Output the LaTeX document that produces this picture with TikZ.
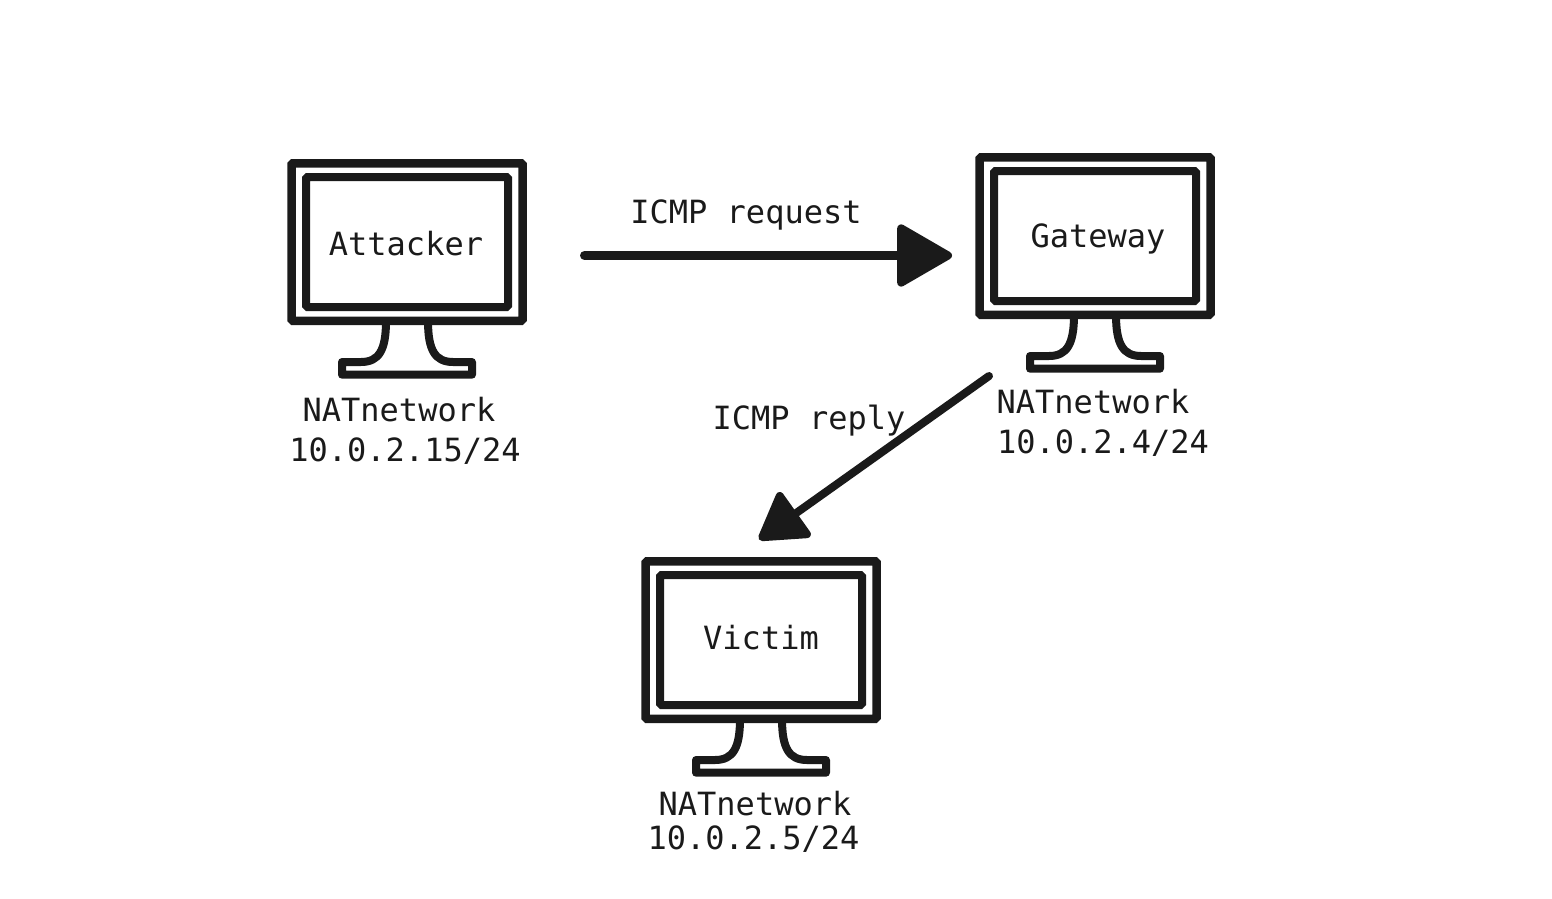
\documentclass[tikz,border=0pt]{standalone}
\usepackage{fontspec}
\setmonofont{DejaVu Sans Mono}
\usetikzlibrary{arrows.meta, positioning}
\definecolor{inkc}{HTML}{1A1A1A}
\tikzset{
  lbl/.style={font=\ttfamily\fontsize{32}{36}\selectfont, text=inkc, inner sep=0pt, anchor=base},
  outerbox/.style={draw=inkc, line width=8.5pt, rounded corners=1.5pt, minimum width=231pt, minimum height=157.5pt, inner sep=0pt},
  innerbox/.style={draw=inkc, line width=8pt, rounded corners=1.5pt, minimum width=202pt, minimum height=130pt, inner sep=0pt},
  stand/.style={draw=inkc, line width=8pt, line join=round},
  conn/.style={draw=inkc, line width=9pt, line cap=round, -{Triangle[length=59pt,width=66pt,round,line width=8pt]}},
  connsmall/.style={draw=inkc, line width=8pt, line cap=round, -{Triangle[length=50pt,width=59pt,round,line width=8pt]}}
}
\begin{document}
\begin{tikzpicture}[x=1pt,y=-1pt]
\useasboundingbox (0,0) rectangle (1552,899);

% Monitors
\foreach \name/\x/\y in {attacker/407/242, gateway/1095/236, victim/761/640}{
  \node[outerbox] (\name box) at (\x,\y) {};
  \node[innerbox] (\name screen) at (\x,\y) {};
  \draw[stand, shift={(\x,\y)}] (-21,79) .. controls (-21,108) and (-28,120) .. (-46,120) -- (-65,120) -- (-65,132.7) -- (65,132.7) -- (65,120) -- (46,120) .. controls (28,120) and (21,108) .. (21,79);
}

% Labels
\node[lbl] (attackername) at (406,255) {Attacker};
\node[lbl] (attackernet) at (399,421) {NATnetwork};
\node[lbl] (attackerip) at (405,461) {10.0.2.15/24};
\node[lbl] (gatewayname) at (1098,247) {Gateway};
\node[lbl] (gatewaynet) at (1093,413) {NATnetwork};
\node[lbl] (gatewayip) at (1103,453) {10.0.2.4/24};
\node[lbl] (victimname) at (761,649) {Victim};
\node[lbl] (victimnet) at (755,815) {NATnetwork};
\node[lbl] (victimip) at (753.5,849) {10.0.2.5/24};
\node[lbl] (requestlbl) at (746,223) {ICMP request};
\node[lbl] (replylbl) at (809,429) {ICMP reply};

% Arrows
\coordinate (reqstart) at (584.5,255.5);
\coordinate (reqend) at (952,255.5);
\coordinate (repstart) at (989,376);
\coordinate (repend) at (759,539.5);
\draw[conn] (reqstart) -- (reqend);
\draw[connsmall] (repstart) -- (repend);
\end{tikzpicture}
\end{document}
